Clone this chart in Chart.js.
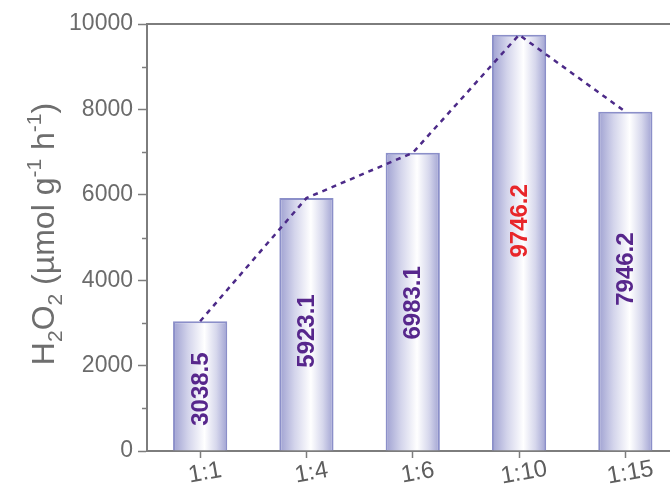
<!DOCTYPE html>
<html>
<head>
<meta charset="utf-8">
<script src="https://cdn.jsdelivr.net/npm/chart.js@4/dist/chart.umd.min.js"></script>
<style>
  html, body { margin: 0; padding: 0; background: #fff; }
  #wrap { width: 670px; height: 486px; overflow: hidden; position: relative; }
  canvas { display: block; }
</style>
</head>
<body>
<div id="wrap"><canvas id="c" width="700" height="486"></canvas></div>
<script>
// Molar ratios and H2O2 production rates (µmol g-1 h-1)
const ratios = ['1:1', '1:4', '1:6', '1:10', '1:15'];
const rates = [3038.5, 5923.1, 6983.1, 9746.2, 7946.2];
const yTicks = [0, 2000, 4000, 6000, 8000, 10000];

// where each value label sits along its bar (axis units)
const labelCentres = [1450, 2810, 3470, 5390, 4260];

const FONT = "'Liberation Sans', Arial, sans-serif";
const AXIS_GREY = '#7d7d7d';
const TEXT_GREY = '#6b6b6b';
const BAR_EDGE = '#8b8fc9';
const LABEL_PURPLE = '#57278c';
const LABEL_RED = '#e8262a';
const LINE_PURPLE = '#4c2a88';

const maxRate = Math.max(...rates);

function barGradient(context) {
  const chart = context.chart;
  const xs = chart.scales.x;
  if (!chart.chartArea || !xs) return '#c8c9e6';
  const cx = xs.getPixelForValue(context.dataIndex);
  const half = xs.width / ratios.length * 0.51 / 2;
  const g = chart.ctx.createLinearGradient(cx - half, 0, cx + half, 0);
  g.addColorStop(0, '#9ea0d1');
  g.addColorStop(0.28, '#d3d4eb');
  g.addColorStop(0.58, '#ffffff');
  g.addColorStop(0.8, '#d6d7ec');
  g.addColorStop(1, '#a0a2d2');
  return g;
}

// frame line, minor ticks, tilted category labels and the y-axis title
const annotate = {
  id: 'annotate',
  afterDraw(chart) {
    const ctx = chart.ctx;
    const area = chart.chartArea;
    const xs = chart.scales.x;
    const ys = chart.scales.y;

    // top frame line
    ctx.save();
    ctx.strokeStyle = AXIS_GREY;
    ctx.lineWidth = 2;
    ctx.beginPath();
    ctx.moveTo(area.left - 1, area.top);
    ctx.lineTo(chart.width, area.top);
    ctx.stroke();

    // minor y ticks
    ctx.lineWidth = 1.5;
    for (let v = 1000; v < 10000; v += 2000) {
      const py = Math.round(ys.getPixelForValue(v)) + 0.5;
      ctx.beginPath();
      ctx.moveTo(area.left - 5, py);
      ctx.lineTo(area.left, py);
      ctx.stroke();
    }
    ctx.restore();

    // category labels, slightly tilted
    ctx.save();
    ctx.fillStyle = '#5e5e5e';
    ctx.font = '24px ' + FONT;
    ctx.textAlign = 'center';
    ctx.textBaseline = 'middle';
    ratios.forEach((r, i) => {
      const px = xs.getPixelForValue(i);
      ctx.save();
      ctx.translate(px + 5, area.bottom + 22);
      ctx.rotate(-10 * Math.PI / 180);
      ctx.fillText(r, 0, 0);
      ctx.restore();
    });
    ctx.restore();

    // y-axis title: H2O2 (µmol g-1 h-1)
    const parts = [
      ['H', 0], ['2', -1], ['O', 0], ['2', -1],
      [' (\u00b5mol g', 0], ['-1', 1], [' h', 0], ['-1', 1], [')', 0]
    ];
    const size = 32;
    const small = 21;
    ctx.save();
    ctx.fillStyle = '#6e6e6e';
    let total = 0;
    parts.forEach(([t, s]) => {
      ctx.font = (s ? small : size) + 'px ' + FONT;
      total += ctx.measureText(t).width;
    });
    ctx.translate(54, 234);
    ctx.rotate(-Math.PI / 2);
    ctx.textBaseline = 'alphabetic';
    ctx.textAlign = 'left';
    let x = -total / 2;
    parts.forEach(([t, s]) => {
      ctx.font = (s ? small : size) + 'px ' + FONT;
      const dy = s === -1 ? 8 : (s === 1 ? -13 : 0);
      ctx.fillText(t, x, dy);
      x += ctx.measureText(t).width;
    });
    ctx.restore();
  },
  afterDatasetsDraw(chart) {
    const ctx = chart.ctx;
    const xs = chart.scales.x;
    const ys = chart.scales.y;
    ctx.save();
    ctx.font = 'bold 24px ' + FONT;
    ctx.textAlign = 'center';
    ctx.textBaseline = 'middle';
    rates.forEach((v, i) => {
      ctx.save();
      ctx.translate(xs.getPixelForValue(i) + 1, ys.getPixelForValue(labelCentres[i]));
      ctx.rotate(-Math.PI / 2);
      ctx.fillStyle = v === maxRate ? LABEL_RED : LABEL_PURPLE;
      ctx.fillText(v.toFixed(1), 0, 0);
      ctx.restore();
    });
    ctx.restore();
  }
};

new Chart(document.getElementById('c'), {
  data: {
    labels: ratios,
    datasets: [
      {
        type: 'line',
        data: rates,
        borderColor: LINE_PURPLE,
        borderWidth: 2.5,
        borderDash: [5, 5],
        pointRadius: 0,
        fill: false,
        tension: 0,
        order: 0
      },
      {
        type: 'bar',
        data: rates,
        backgroundColor: barGradient,
        borderColor: BAR_EDGE,
        borderWidth: 2,
        barPercentage: 0.51,
        categoryPercentage: 1,
        order: 1
      }
    ]
  },
  options: {
    responsive: false,
    animation: false,
    devicePixelRatio: 1,
    layout: { padding: { top: 24, right: 21.5, bottom: 0, left: 0 } },
    plugins: { legend: { display: false }, tooltip: { enabled: false } },
    scales: {
      x: {
        type: 'category',
        offset: true,
        grid: {
          offset: false,
          drawOnChartArea: false,
          drawTicks: true,
          tickLength: 7,
          tickColor: AXIS_GREY,
          tickWidth: 1.5
        },
        border: { display: true, color: AXIS_GREY, width: 2 },
        ticks: { color: 'rgba(0,0,0,0)', maxRotation: 0, minRotation: 0, font: { size: 20, family: FONT } },
        afterFit(scale) { scale.height = 35; }
      },
      y: {
        min: 0,
        max: 10000,
        afterBuildTicks(scale) { scale.ticks = yTicks.map(v => ({ value: v })); },
        grid: {
          drawOnChartArea: false,
          drawTicks: true,
          tickLength: 9,
          tickColor: AXIS_GREY,
          tickWidth: 1.5
        },
        border: { display: true, color: AXIS_GREY, width: 2 },
        ticks: {
          color: TEXT_GREY,
          padding: 5,
          font: { size: 23, family: FONT },
          callback: (v) => String(v)
        },
        afterFit(scale) { scale.width = 147; }
      }
    }
  },
  plugins: [annotate]
});
</script>
</body>
</html>
